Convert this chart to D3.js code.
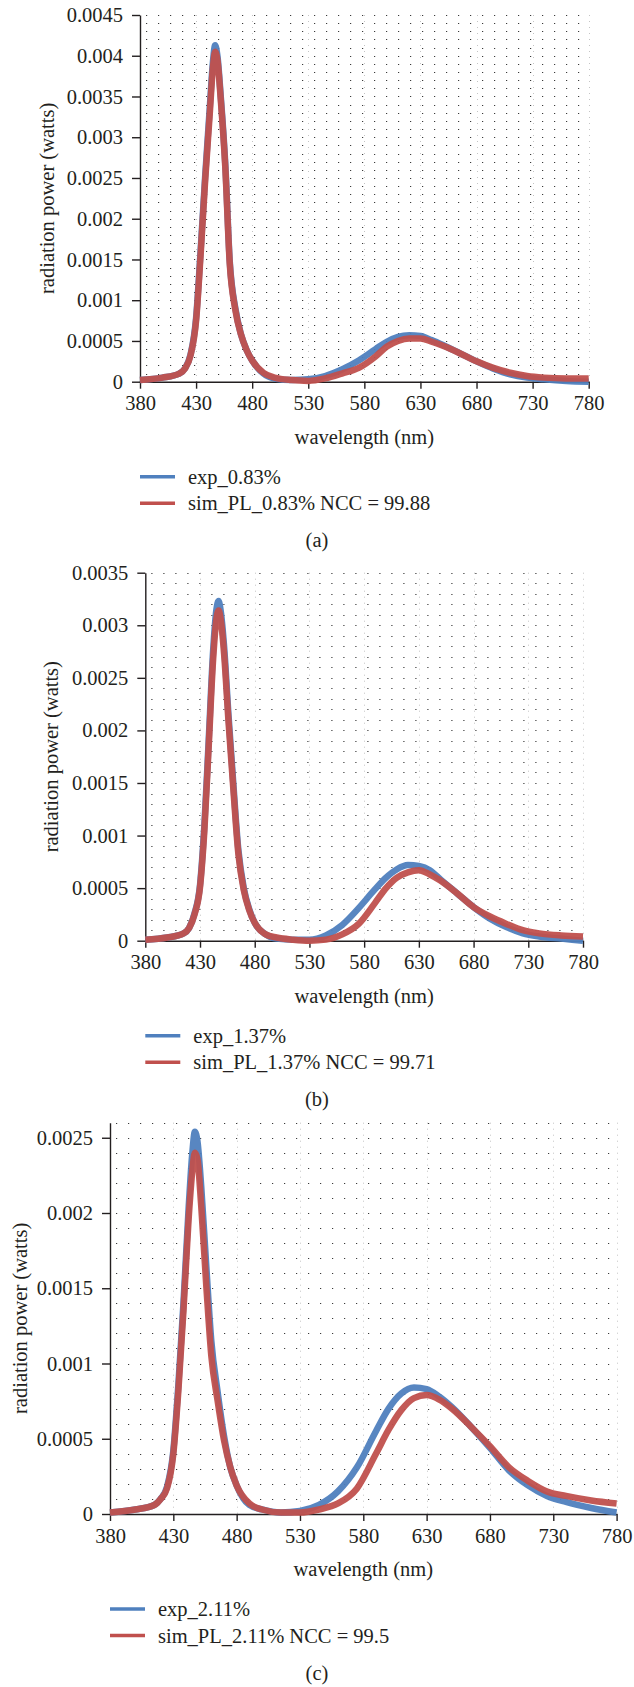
<!DOCTYPE html>
<html>
<head>
<meta charset="utf-8">
<script src="https://cdn.jsdelivr.net/npm/d3@7/dist/d3.min.js"></script>
<style>
body { margin: 0; background: #fff; }
</style>
</head>
<body>
<script>
// wavelength samples (nm)
var wave = [380, 400, 415, 420, 425, 430, 434, 438, 442, 445, 447, 449, 452, 456, 460, 465, 470, 475, 480, 490,
            500, 515, 530, 545, 560, 575, 590, 600, 610, 620, 630, 640, 650, 665, 680, 695, 710, 725, 740, 760, 780];

// (a) 0.83%
var expA = [0.00002, 0.00005, 0.0001, 0.00016, 0.00033, 0.00078, 0.0016, 0.0025, 0.00332, 0.00392, 0.00413, 0.004, 0.0035, 0.00268, 0.00148, 0.0009, 0.00058, 0.00039, 0.00026, 0.0001,
            0.00004, 0.00002, 0.00003, 0.00007, 0.00015, 0.00026, 0.0004, 0.00049, 0.00055, 0.00057, 0.00056, 0.00051, 0.00045, 0.00035, 0.00025, 0.00016, 0.00009, 0.00005, 0.00003, 0.00001, 0];
var simA = [0.00002, 0.00005, 0.0001, 0.00016, 0.00032, 0.00075, 0.00155, 0.00245, 0.00325, 0.00385, 0.00405, 0.00395, 0.00346, 0.00264, 0.00145, 0.00088, 0.00058, 0.00039, 0.00026, 0.00011,
            0.00005, 0.00002, 0.00001, 0.00004, 0.0001, 0.00017, 0.00031, 0.00043, 0.0005, 0.00053, 0.00053, 0.00049, 0.00044, 0.00035, 0.00025, 0.00017, 0.00011, 0.00007, 0.00005, 0.00004, 0.00004];

// (b) 1.37%
var expB = [0.00001, 0.00003, 0.00007, 0.00012, 0.00026, 0.00053, 0.0011, 0.00192, 0.00276, 0.00315, 0.00323, 0.00313, 0.0028, 0.00215, 0.00156, 0.00087, 0.0005, 0.0003, 0.00017, 0.00006,
            0.00002, 0.00001, 0.00001, 0.00005, 0.00015, 0.00031, 0.00049, 0.0006, 0.00068, 0.00072, 0.00071, 0.00067, 0.00058, 0.00045, 0.00032, 0.00021, 0.00013, 0.00007, 0.00004, 0.00002, 0];
var simB = [0.00001, 0.00003, 0.00007, 0.00012, 0.00025, 0.00051, 0.00105, 0.00186, 0.00268, 0.00306, 0.00314, 0.00305, 0.00273, 0.00209, 0.00151, 0.00083, 0.00048, 0.00029, 0.00017, 0.00006,
            0.00003, 0.00001, 0, 0.00001, 0.00006, 0.00016, 0.00036, 0.0005, 0.0006, 0.00065, 0.00067, 0.00063, 0.00057, 0.00045, 0.00032, 0.00023, 0.00016, 0.0001, 0.00007, 0.00005, 0.00004];

// (c) 2.11%
var expC = [0.00001, 0.00003, 0.00006, 0.0001, 0.00018, 0.00042, 0.00086, 0.0014, 0.00202, 0.0024, 0.00254, 0.00248, 0.00218, 0.00165, 0.00115, 0.00081, 0.00052, 0.00031, 0.00019, 0.00006,
            0.00003, 0.00001, 0.00002, 0.00006, 0.00015, 0.00031, 0.00055, 0.0007, 0.0008, 0.00084, 0.00083, 0.00078, 0.00071, 0.00058, 0.00044, 0.00029, 0.00019, 0.00012, 0.00008, 0.00004, 0.00001];
var simC = [0.00001, 0.00003, 0.00006, 0.0001, 0.00017, 0.0004, 0.00082, 0.00135, 0.00195, 0.00228, 0.0024, 0.00236, 0.00205, 0.00152, 0.00105, 0.00075, 0.00049, 0.00031, 0.00019, 0.00007,
            0.00003, 0.00001, 0.00001, 0.00003, 0.00007, 0.00017, 0.0004, 0.00056, 0.00069, 0.00077, 0.00079, 0.00076, 0.0007, 0.00058, 0.00045, 0.00031, 0.00022, 0.00015, 0.00012, 0.00009, 0.00007];

var xTicks = [380, 430, 480, 530, 580, 630, 680, 730, 780];
var yTicksA = [0, 0.0005, 0.001, 0.0015, 0.002, 0.0025, 0.003, 0.0035, 0.004, 0.0045];
var yTicksB = [0, 0.0005, 0.001, 0.0015, 0.002, 0.0025, 0.003, 0.0035];
var yTicksC = [0, 0.0005, 0.001, 0.0015, 0.002, 0.0025];

var expNames = ["exp_0.83%", "exp_1.37%", "exp_2.11%"];
var simNames = ["sim_PL_0.83% NCC = 99.88", "sim_PL_1.37% NCC = 99.71", "sim_PL_2.11% NCC = 99.5"];
var captions = ["(a)", "(b)", "(c)"];

var blue = "#4f80be", red = "#c0504d";
var serif = "'Liberation Serif', Tinos, 'Times New Roman', serif";
var ink = "#231f20";
var fs = 20.5;

// layout of each panel
var panels = [
  {exp: expA, sim: simA, ticks: yTicksA, yMax: 0.0045, left: 140, right: 588.7, top: 15, bottom: 381.7, titleOff: 93},
  {exp: expB, sim: simB, ticks: yTicksB, yMax: 0.0035, left: 145.3, right: 583, top: 572.7, bottom: 940.7, titleOff: 94},
  {exp: expC, sim: simC, ticks: yTicksC, yMax: 0.0026, left: 110, right: 616.6, top: 1122.7, bottom: 1514, titleOff: 90}
];

var svg = d3.select("body").append("svg")
    .attr("width", 634)
    .attr("height", 1687)
    .attr("font-family", serif)
    .attr("font-size", fs);

var fmt = function(d){ return d === 0 ? "0" : String(+d.toFixed(4)); };

function label(sel){
  return sel.attr("font-family", serif).attr("font-size", fs).attr("fill", ink);
}

panels.forEach(function(p, k){
  var g = svg.append("g");
  var x = d3.scaleLinear().domain([380, 780]).range([p.left, p.right]);
  var y = d3.scaleLinear().domain([0, p.yMax]).range([p.bottom, p.top]);

  // dotted minor grid, every 0.0001
  var rows = d3.range(1, Math.round(p.yMax / 0.0001) + 1).map(function(i){ return i * 0.0001; });
  g.append("g").selectAll("line").data(rows).enter().append("line")
      .attr("x1", p.left + 6).attr("x2", p.right)
      .attr("y1", function(d){ return Math.round(y(d)) + 0.5; })
      .attr("y2", function(d){ return Math.round(y(d)) + 0.5; })
      .attr("stroke", "#3a3a3a")
      .attr("stroke-width", 1)
      .attr("stroke-dasharray", "1.2 10.8");
  g.append("g").selectAll("line").data(xTicks.slice(1)).enter().append("line")
      .attr("x1", function(d){ return Math.round(x(d)) + 0.5; })
      .attr("x2", function(d){ return Math.round(x(d)) + 0.5; })
      .attr("y1", y(p.yMax)).attr("y2", p.bottom)
      .attr("stroke", "#aaa")
      .attr("stroke-width", 0.7)
      .attr("stroke-dasharray", "1 5");

  // axes
  var xAxis = d3.axisBottom(x).tickValues(xTicks).tickSize(7).tickSizeOuter(0).tickPadding(7);
  var yAxis = d3.axisLeft(y).tickValues(p.ticks).tickFormat(fmt).tickSize(8).tickSizeOuter(0).tickPadding(9);
  var ga = g.append("g").attr("transform", "translate(0," + p.bottom + ")").call(xAxis);
  var gy = g.append("g").attr("transform", "translate(" + p.left + ",0)").call(yAxis);
  [ga, gy].forEach(function(a){
    a.attr("font-family", serif).attr("font-size", fs);
    a.select(".domain").attr("stroke", ink).attr("stroke-width", 1.4);
    a.selectAll(".tick line").attr("stroke", ink).attr("stroke-width", 1.4);
    label(a.selectAll("text"));
  });

  // curves
  var line = d3.line()
      .x(function(d, i){ return x(wave[i]); })
      .y(function(d){ return y(d); })
      .curve(d3.curveMonotoneX);
  g.append("path").datum(p.exp)
      .attr("d", line).attr("fill", "none")
      .attr("stroke", blue).attr("stroke-width", 6.5)
      .attr("stroke-linejoin", "round").attr("stroke-opacity", 0.95);
  g.append("path").datum(p.sim)
      .attr("d", line).attr("fill", "none")
      .attr("stroke", red).attr("stroke-width", 6.5)
      .attr("stroke-linejoin", "round").attr("stroke-opacity", 0.95);

  // titles
  label(g.append("text"))
      .attr("x", (p.left + p.right) / 2).attr("y", p.bottom + 55)
      .attr("text-anchor", "middle").attr("dominant-baseline", "central")
      .text("wavelength (nm)");
  label(g.append("text"))
      .attr("transform", "translate(" + (p.left - p.titleOff) + "," + ((p.top + p.bottom) / 2) + ") rotate(-90)")
      .attr("text-anchor", "middle").attr("dominant-baseline", "central")
      .text("radiation power (watts)");

  // legend
  var leg = [[expNames[k], blue], [simNames[k], red]];
  leg.forEach(function(l, j){
    var ly = p.bottom + 95 + j * 26.5;
    g.append("line")
        .attr("x1", p.left).attr("x2", p.left + 35)
        .attr("y1", ly).attr("y2", ly)
        .attr("stroke", l[1]).attr("stroke-width", 3.5);
    label(g.append("text"))
        .attr("x", p.left + 48).attr("y", ly)
        .attr("dominant-baseline", "central")
        .text(l[0]);
  });

  label(g.append("text"))
      .attr("x", 317).attr("y", p.bottom + 158.5)
      .attr("text-anchor", "middle").attr("dominant-baseline", "central")
      .text(captions[k]);
});
</script>
</body>
</html>
